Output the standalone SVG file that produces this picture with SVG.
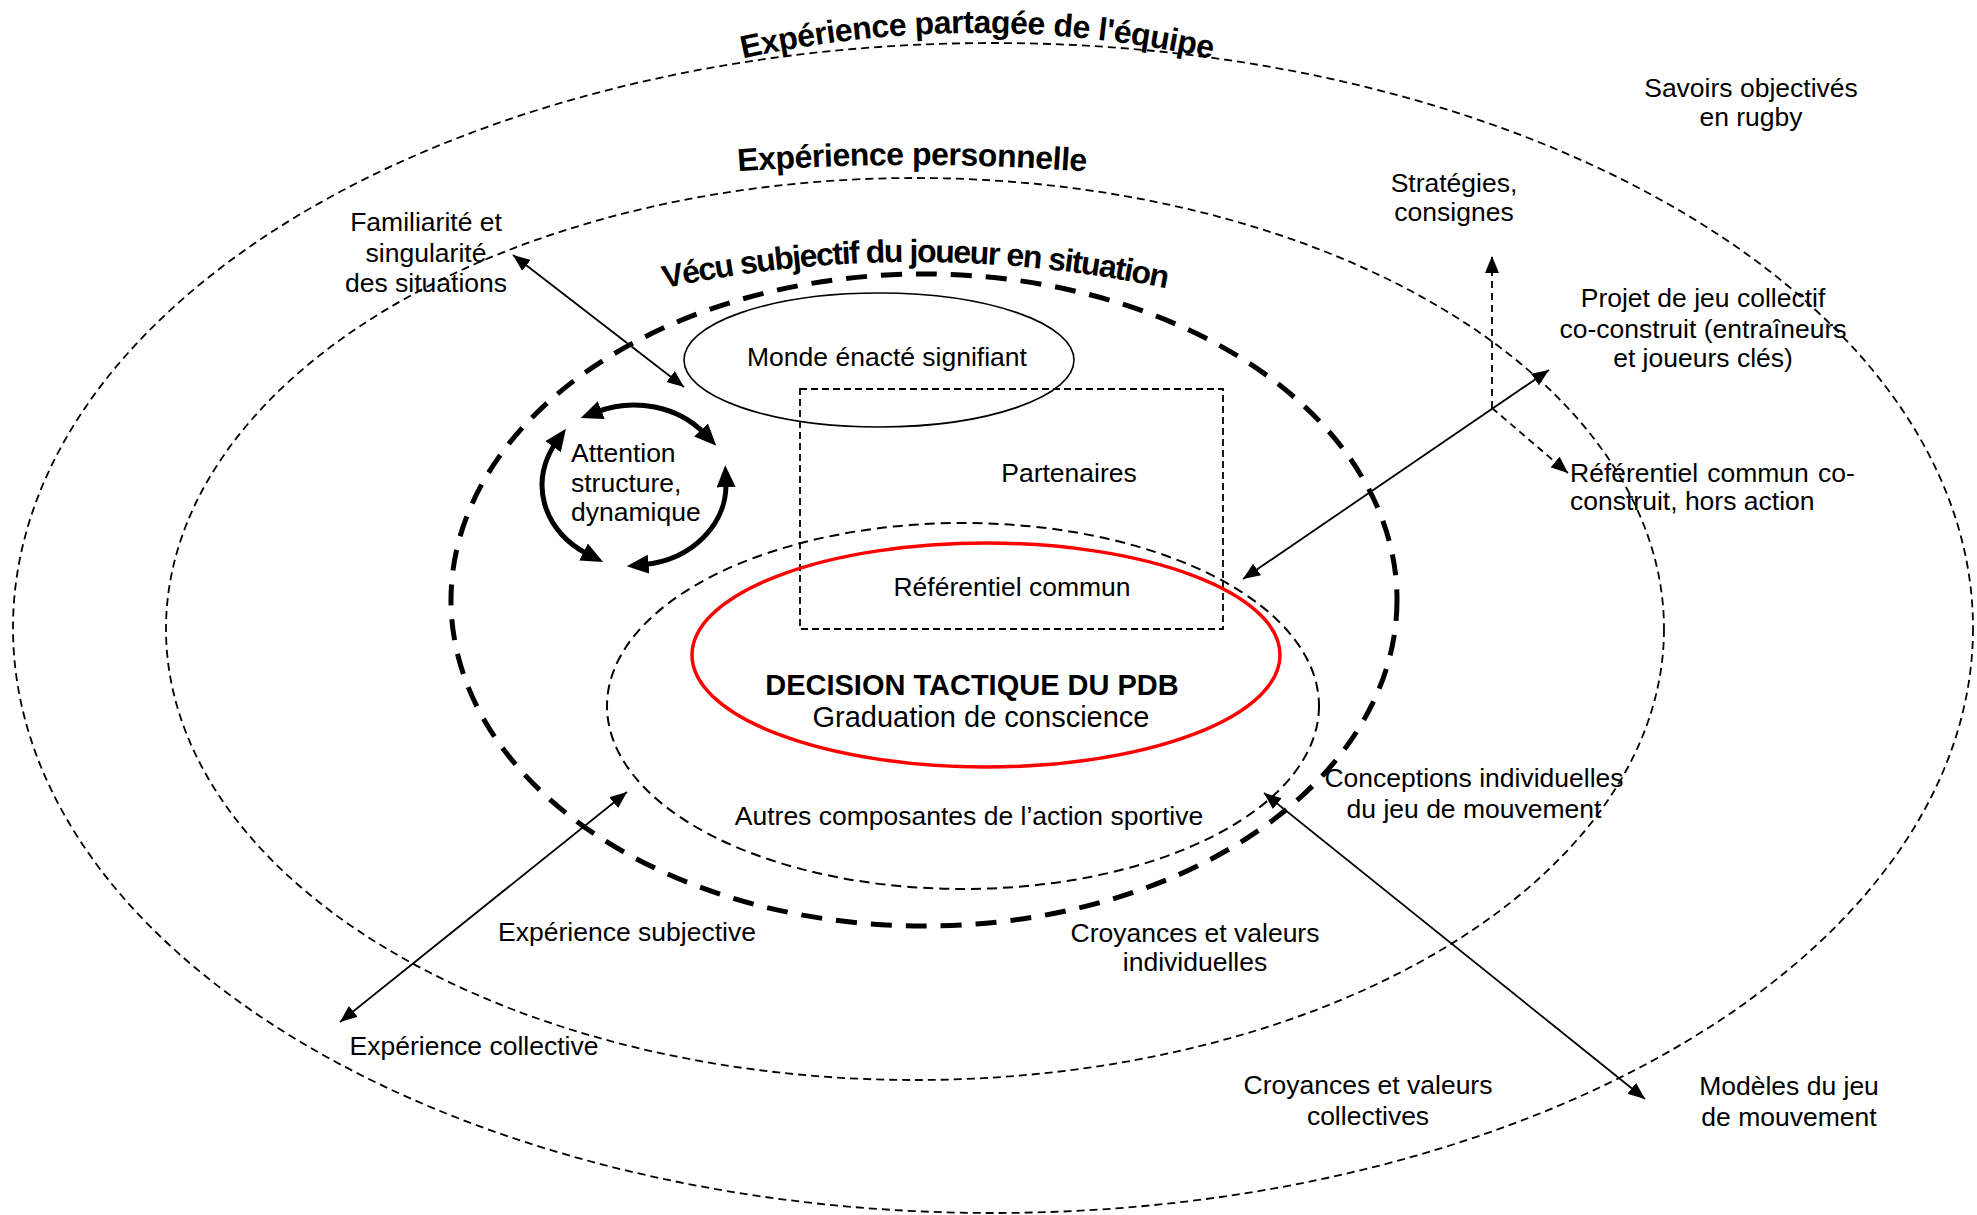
<svg xmlns="http://www.w3.org/2000/svg" width="1977" height="1215" viewBox="0 0 1977 1215">
  <style>
    .lbl { font-family: "Liberation Sans", Arial, Helvetica, sans-serif; font-size: 26.5px; fill: #000; text-anchor: middle; }
    .left { text-anchor: start; }
    .big { font-size: 29px; }
    .bold { font-weight: bold; }
    .title { font-family: "Liberation Sans", Arial, Helvetica, sans-serif; font-size: 32px; font-weight: bold; fill: #000; }
    .ring-thin { fill: none; stroke: #000; stroke-width: 1.8; stroke-dasharray: 8 5; }
    .ring-thick { fill: none; stroke: #000; stroke-width: 5; stroke-dasharray: 21 14; }
    .ring-inner { fill: none; stroke: #000; stroke-width: 2; stroke-dasharray: 10 6; }
    .box { fill: none; stroke: #000; stroke-width: 1.8; stroke-dasharray: 7 4; }
    .conn { fill: none; stroke: #000; stroke-width: 1.8; marker-start: url(#ah); marker-end: url(#ah); }
    .conn-dash { fill: none; stroke: #000; stroke-width: 1.8; stroke-dasharray: 7 5; marker-end: url(#ah); }
    .cycle { fill: none; stroke: #000; stroke-width: 5; marker-start: url(#ahBig); marker-end: url(#ahBig); }
  </style>
  <defs>
    <marker id="ah" markerUnits="userSpaceOnUse" markerWidth="18" markerHeight="14" refX="17" refY="7" orient="auto-start-reverse">
      <path d="M0,0 L17,7 L0,14 Z" fill="#000"/>
    </marker>
    <marker id="ahBig" markerUnits="userSpaceOnUse" markerWidth="23" markerHeight="20" refX="5" refY="9.5" orient="auto-start-reverse">
      <path d="M0,0 L22,9.5 L0,19 Z" fill="#000"/>
    </marker>
    <path id="arcTeam" d="M 700 69 A 1084 1084 0 0 1 1254 69"/>
    <path id="arcPerso" d="M 717 173 A 2400 2400 0 0 1 1107 173"/>
    <path id="arcVecu" d="M 640 293.6 A 1213 1213 0 0 1 1190 293.6"/>
  </defs>

  <rect width="1977" height="1215" fill="#fff"/>

  <!-- concentric experience rings -->
  <g id="ring-team">
    <ellipse class="ring-thin" cx="993" cy="628" rx="980" ry="585"/>
    <text class="title" letter-spacing="-0.5"><textPath href="#arcTeam" startOffset="50%" text-anchor="middle">Expérience partagée de l'équipe</textPath></text>
  </g>
  <g id="ring-personal">
    <ellipse class="ring-thin" cx="915" cy="629" rx="749" ry="451"/>
    <text class="title" letter-spacing="-0.5"><textPath href="#arcPerso" startOffset="50%" text-anchor="middle">Expérience personnelle</textPath></text>
  </g>
  <g id="ring-vecu">
    <ellipse class="ring-thick" cx="924" cy="600" rx="473" ry="326"/>
    <text class="title" letter-spacing="-1.5"><textPath href="#arcVecu" startOffset="50%" text-anchor="middle">Vécu subjectif du joueur en situation</textPath></text>
  </g>
  <g id="ring-autres">
    <ellipse class="ring-inner" cx="963" cy="706" rx="356" ry="183"/>
    <text class="lbl" x="969" y="825">Autres composantes de l’action sportive</text>
  </g>

  <!-- inner nodes -->
  <g id="monde-enacte">
    <ellipse cx="879" cy="360" rx="195" ry="67" fill="none" stroke="#000" stroke-width="1.6"/>
    <text class="lbl" x="887" y="366">Monde énacté signifiant</text>
  </g>
  <g id="partenaires">
    <rect class="box" x="800" y="389" width="423" height="240"/>
    <text class="lbl" x="1069" y="482">Partenaires</text>
    <text class="lbl" x="1012" y="596">Référentiel commun</text>
  </g>
  <g id="decision">
    <ellipse cx="986" cy="655" rx="294" ry="112" fill="none" stroke="#ff0000" stroke-width="3.5"/>
    <text class="lbl big bold" x="972" y="695">DECISION TACTIQUE DU PDB</text>
    <text class="lbl big" x="981" y="727">Graduation de conscience</text>
  </g>
  <g id="attention">
    <text class="lbl left" x="571" y="462">Attention</text>
    <text class="lbl left" x="571" y="492">structure,</text>
    <text class="lbl left" x="571" y="521">dynamique</text>
  </g>

  <!-- outer labels -->
  <g id="familiarite">
    <text class="lbl" x="426" y="231">Familiarité et</text>
    <text class="lbl" x="426" y="262">singularité</text>
    <text class="lbl" x="426" y="292">des situations</text>
  </g>
  <g id="savoirs">
    <text class="lbl" x="1751" y="97">Savoirs objectivés</text>
    <text class="lbl" x="1751" y="126">en rugby</text>
  </g>
  <g id="strategies">
    <text class="lbl" x="1454" y="192">Stratégies,</text>
    <text class="lbl" x="1454" y="221">consignes</text>
  </g>
  <g id="projet">
    <text class="lbl" x="1703" y="307">Projet de jeu collectif</text>
    <text class="lbl" x="1703" y="338">co-construit (entraîneurs</text>
    <text class="lbl" x="1703" y="367">et joueurs clés)</text>
  </g>
  <g id="referentiel-hors-action">
    <text class="lbl left" x="1570" y="482" word-spacing="1.7">Référentiel commun co-</text>
    <text class="lbl left" x="1570" y="510">construit, hors action</text>
  </g>
  <g id="conceptions">
    <text class="lbl" x="1474" y="787">Conceptions individuelles</text>
    <text class="lbl" x="1474" y="818">du jeu de mouvement</text>
  </g>
  <g id="croyances-indiv">
    <text class="lbl" x="1195" y="942">Croyances et valeurs</text>
    <text class="lbl" x="1195" y="971">individuelles</text>
  </g>
  <g id="croyances-coll">
    <text class="lbl" x="1368" y="1094">Croyances et valeurs</text>
    <text class="lbl" x="1368" y="1125">collectives</text>
  </g>
  <g id="modeles">
    <text class="lbl" x="1789" y="1095">Modèles du jeu</text>
    <text class="lbl" x="1789" y="1126">de mouvement</text>
  </g>
  <g id="exp-subjective">
    <text class="lbl" x="627" y="941">Expérience subjective</text>
  </g>
  <g id="exp-collective">
    <text class="lbl" x="474" y="1055">Expérience collective</text>
  </g>

  <!-- connectors -->
  <g id="connectors">
    <line class="conn" x1="513" y1="255" x2="684" y2="387"/>
    <line class="conn" x1="627" y1="792" x2="340" y2="1022"/>
    <line class="conn" x1="1264" y1="793" x2="1645" y2="1099"/>
    <line class="conn" x1="1549" y1="370" x2="1243" y2="579"/>
    <path class="conn-dash" d="M 1492 408 L 1492 256"/>
    <path class="conn-dash" d="M 1492 408 L 1568 473"/>
    <path class="cycle" d="M 596.6 411.9 A 92 80 0 0 1 704.5 433.6"/>
    <path class="cycle" d="M 556 442.6 A 92 80 0 0 0 588 554.3"/>
    <path class="cycle" d="M 643.6 564.6 A 92 80 0 0 0 725.9 482.2"/>
  </g>
</svg>
